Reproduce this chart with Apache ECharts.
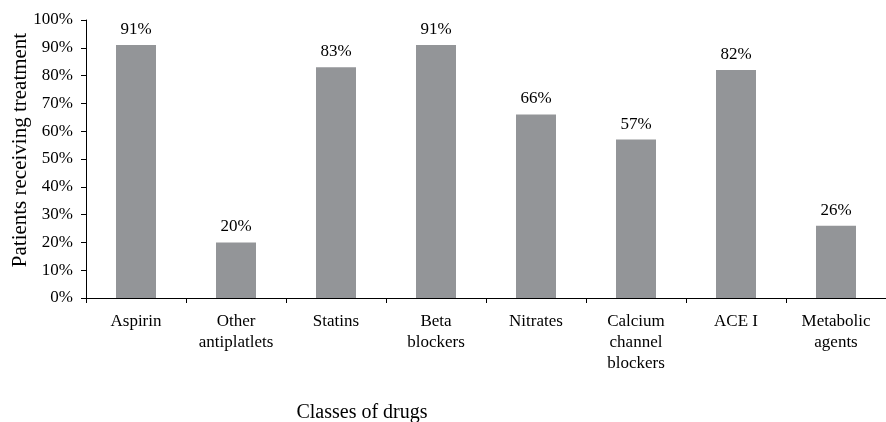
<!DOCTYPE html>
<html>
<head>
<meta charset="utf-8">
<script src="https://cdn.jsdelivr.net/npm/echarts@6/dist/echarts.min.js"></script>
<style>
  html, body { margin: 0; padding: 0; background: #fff; }
  #chart { width: 886px; height: 422px; }
</style>
</head>
<body>
<div id="chart"></div>
<script>
// Drug classes and share of patients receiving each (%)
const categories = [
  'Aspirin',
  'Other\nantiplatlets',
  'Statins',
  'Beta\nblockers',
  'Nitrates',
  'Calcium\nchannel\nblockers',
  'ACE I',
  'Metabolic\nagents'
];
const patientShare = [91, 20, 83, 91, 66, 57, 82, 26];
const yTicks = [0, 10, 20, 30, 40, 50, 60, 70, 80, 90, 100];

const serif = '"Liberation Serif", "DejaVu Serif", serif';
const chart = echarts.init(document.getElementById('chart'));

chart.setOption({
  animation: false,
  grid: { left: 86, top: 20, height: 278, width: 804, containLabel: false },
  xAxis: {
    type: 'category',
    data: categories,
    axisLine: { lineStyle: { color: '#000', width: 1 } },
    axisTick: { show: true, length: 5, lineStyle: { color: '#000' } },
    axisLabel: {
      color: '#000', fontFamily: serif, fontSize: 17,
      lineHeight: 21, margin: 13, interval: 0
    }
  },
  yAxis: {
    type: 'value',
    min: yTicks[0],
    max: yTicks[yTicks.length - 1],
    interval: 10,
    splitLine: { show: false },
    axisLine: { show: true, lineStyle: { color: '#000', width: 1 } },
    axisTick: { show: true, length: 5, lineStyle: { color: '#000' } },
    axisLabel: {
      color: '#000', fontFamily: serif, fontSize: 17, margin: 13,
      formatter: v => v + '%'
    }
  },
  series: [{
    type: 'bar',
    data: patientShare,
    barWidth: 40,
    itemStyle: { color: '#939598' },
    label: {
      show: true, position: 'top', distance: 7,
      color: '#000', fontFamily: serif, fontSize: 17,
      formatter: p => p.value + '%'
    }
  }],
  graphic: [
    {
      type: 'text',
      x: 20, y: 150,
      rotation: Math.PI / 2,
      style: {
        text: 'Patients receiving treatment',
        font: '21px ' + serif,
        fill: '#000',
        align: 'center',
        verticalAlign: 'middle'
      }
    },
    {
      type: 'text',
      x: 362, y: 413,
      style: {
        text: 'Classes of drugs',
        font: '20px ' + serif,
        fill: '#000',
        align: 'center',
        verticalAlign: 'middle'
      }
    }
  ]
});
</script>
</body>
</html>
